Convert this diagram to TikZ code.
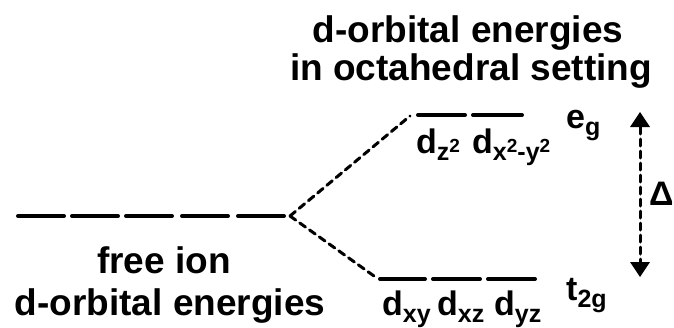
\documentclass[tikz,border=0pt]{standalone}
\usepackage{fontspec}
\setmainfont{Liberation Sans}
\usetikzlibrary{arrows.meta}

\tikzset{
  level/.style={line width=4pt, line cap=round},
  split/.style={line width=3pt, dash pattern=on 7pt off 5pt, line cap=round},
  lab/.style={font=\fontsize{34}{34}\selectfont\bfseries, inner sep=0pt, anchor=base west},
  ttl/.style={font=\fontsize{37}{37}\selectfont\bfseries, inner sep=0pt, anchor=base}
}
% sub- and superscripts for orbital names
\newcommand{\lo}[1]{\raisebox{-7pt}{\fontsize{25}{25}\selectfont #1}}
\newcommand{\hi}[1]{\raisebox{8pt}{\fontsize{19}{19}\selectfont #1}}
\newcommand{\orb}[1]{d\lo{#1}}

\begin{document}
\begin{tikzpicture}[x=1pt,y=-1pt]
\useasboundingbox (0,0) rectangle (674,327);
% free ion levels
\foreach \x [count=\i] in {18,72,126,182,238} {
  \coordinate (f\i) at (\x,216); \coordinate (g\i) at (\x+46,216);
  \draw[level] (f\i) -- (g\i);
}
\coordinate (F) at (290,216);
% octahedral levels
\coordinate (e1) at (418,115); \coordinate (e1r) at (465,115);
\coordinate (e2) at (473,115); \coordinate (e2r) at (522,115);
\coordinate (t1) at (380,279); \coordinate (t1r) at (425,279);
\coordinate (t2) at (433,279); \coordinate (t2r) at (480,279);
\coordinate (t3) at (488,279); \coordinate (t3r) at (535,279);
\draw[level] (e1) -- (e1r); \draw[level] (e2) -- (e2r);
\draw[level] (t1) -- (t1r); \draw[level] (t2) -- (t2r); \draw[level] (t3) -- (t3r);
% splitting
\coordinate (eu) at (410,116); \coordinate (td) at (374,276);
\draw[split] (F) -- (eu); \draw[split] (F) -- (td);
% gap arrow
\coordinate (A) at (640,112); \coordinate (B) at (640,277);
\draw[split, {Triangle[width=20pt,length=15pt,line width=0pt]}-{Triangle[width=20pt,length=15pt,line width=0pt]}] (A) -- (B);
% labels
\node[lab] (dz) at (416,153) {\orb{z\hi{2}}};
\node[lab] (dx) at (472,153) {\orb{x\hi{2}-y\hi{2}}};
\node[lab] (eg) at (566,128) {e\lo{g}};
\node[lab] (dxy) at (382,315) {\orb{xy}};
\node[lab] (dxz) at (437,315) {\orb{xz}};
\node[lab] (dyz) at (494,315) {\orb{yz}};
\node[lab] (tg) at (566,300) {t\lo{2g}};
\node[lab] (D) at (649,205) {Δ};
\node[ttl] (h1) at (468,42) {d-orbital energies};
\node[ttl] (h2) at (471,80) {in octahedral setting};
\node[ttl] (b1) at (164,273) {free ion};
\node[ttl] (b2) at (170,315) {d-orbital energies};
\end{tikzpicture}
\end{document}
